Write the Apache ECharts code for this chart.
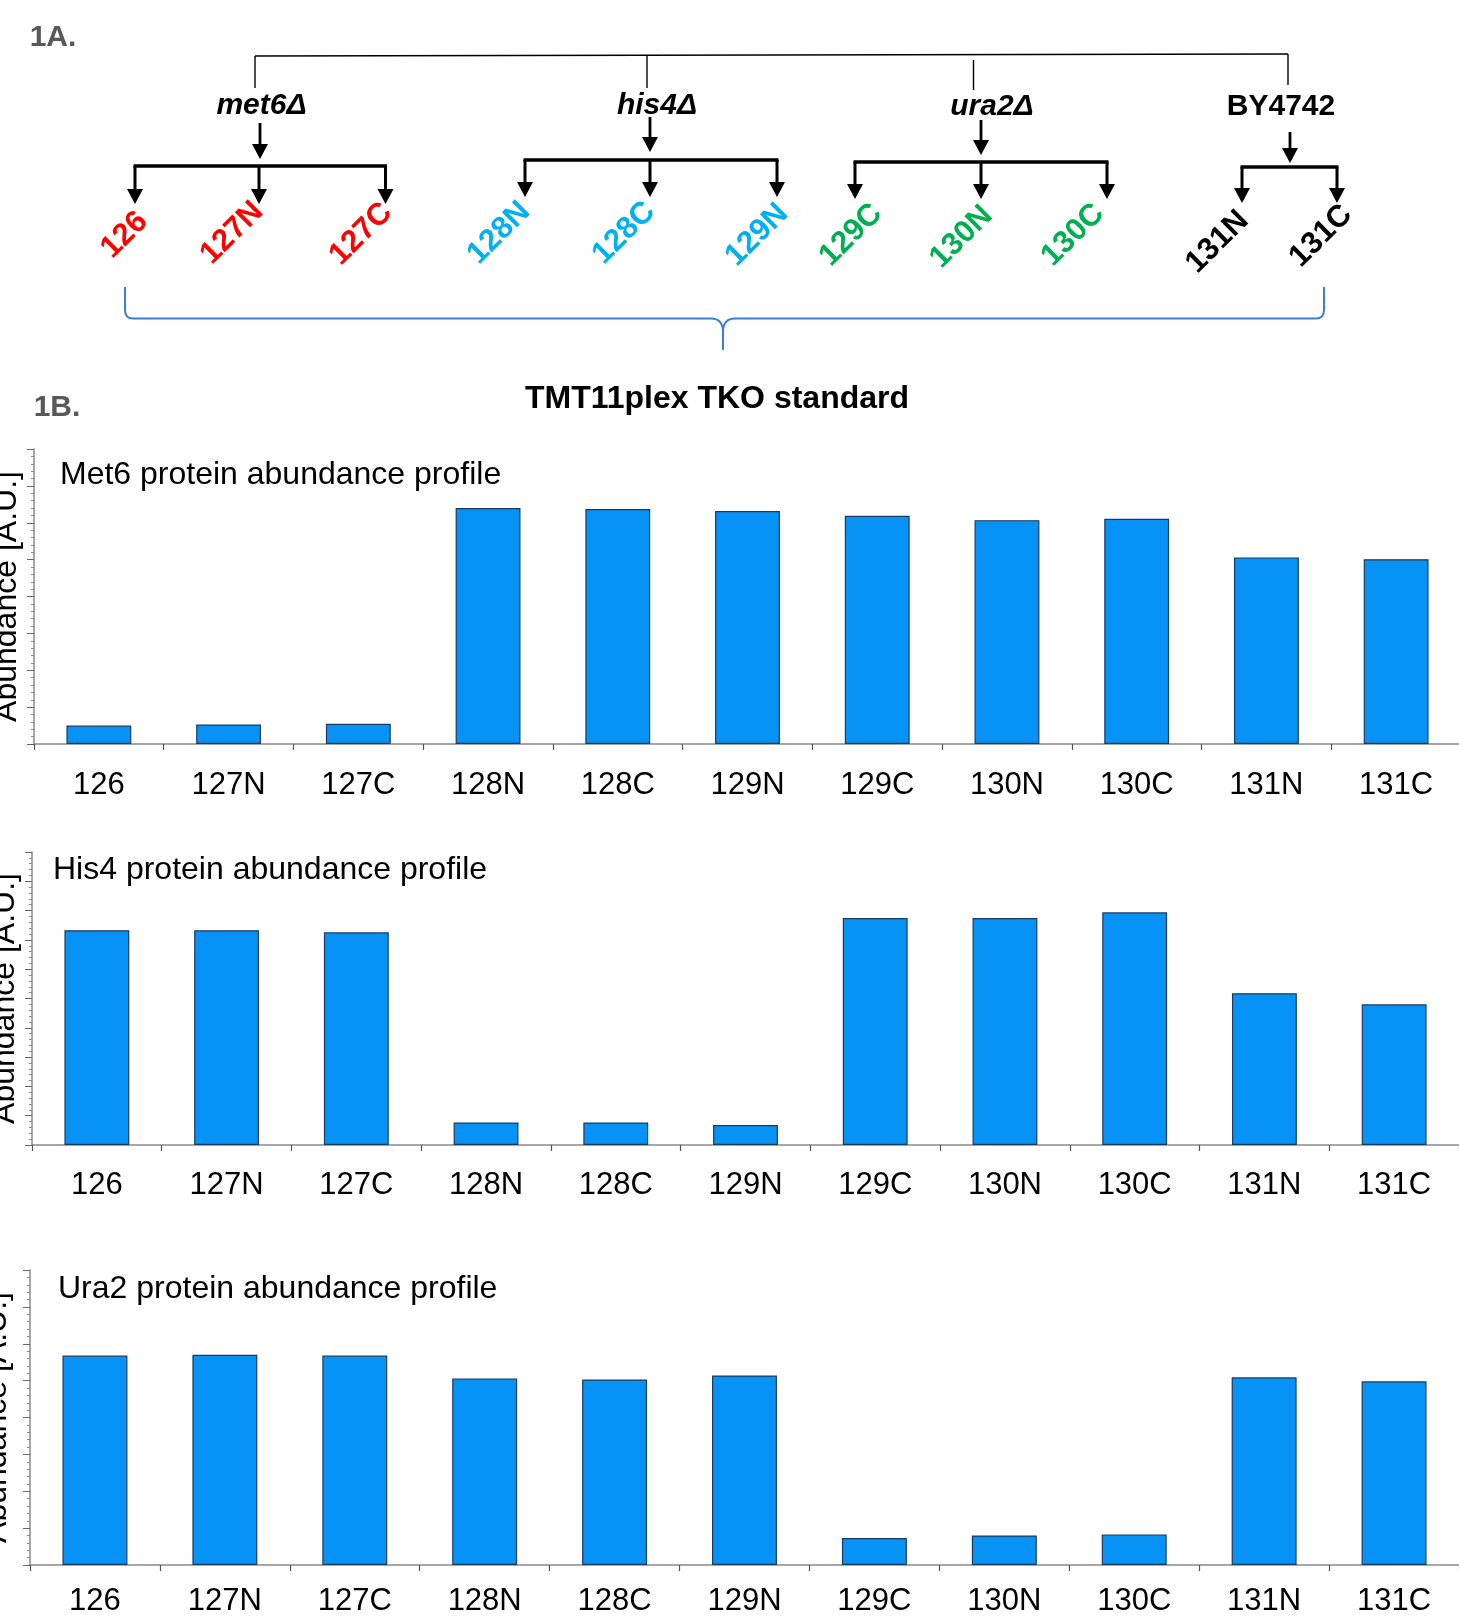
<!DOCTYPE html>
<html>
<head>
<meta charset="utf-8">
<script src="https://cdn.jsdelivr.net/npm/echarts@6/dist/echarts.min.js"></script>
<style>
html,body{margin:0;padding:0;background:#fff;}
#chart{width:1459px;height:1618px;}
</style>
</head>
<body>
<div id="chart"></div>
<script>
// ---------- DATA ----------
const categories = ['126','127N','127C','128N','128C','129N','129C','130N','130C','131N','131C'];
const met6Values = [0.50, 0.53, 0.55, 6.40, 6.37, 6.32, 6.19, 6.07, 6.11, 5.06, 5.01];
const his4Values = [7.33, 7.33, 7.26, 0.77, 0.77, 0.68, 7.75, 7.75, 7.94, 5.18, 4.80];
const ura2Values = [5.68, 5.70, 5.68, 5.06, 5.03, 5.14, 0.73, 0.80, 0.83, 5.09, 4.98];
const yAxisMax = [8, 10, 8];
const panelTitles = ['Met6 protein abundance profile', 'His4 protein abundance profile', 'Ura2 protein abundance profile'];
const yAxisName = 'Abundance [A.U.]';
const strainNames = ['met6Δ', 'his4Δ', 'ura2Δ', 'BY4742'];
const strainItalic = [true, true, true, false];
const strainChannels = [['126','127N','127C'], ['128N','128C','129N'], ['129C','130N','130C'], ['131N','131C']];
const strainColors = ['#FF0000', '#00B0F0', '#00B050', '#000000'];
const panelLabels = ['1A.', '1B.'];
const mainTitle = 'TMT11plex TKO standard';

// ---------- LAYOUT / STYLE ----------
const FONT = "'Liberation Sans', Arial, Helvetica, sans-serif";
const BAR_COLOR = '#0792F5';
const BAR_EDGE = '#1C3A5E';
const AXIS_COLOR = '#8A8A8A';
const gridBoxes = [
  {left: 34, top: 449, width: 1427, height: 295},
  {left: 32, top: 852, width: 1427, height: 293},
  {left: 30, top: 1270, width: 1429, height: 295}
];
const titlePos = [[60, 475], [53, 870], [58, 1289]];
const nameGaps = [11, 11, 17];
const labelMargins = [26, 25, 21];

const strainLayout = [
  {label: [261.5, 106], stem: [255, 56, 88], arrow: [260, 123, 159], barY: 166, xs: [135, 259, 385.5], tipY: 204},
  {label: [657, 106],   stem: [647, 55.5, 88], arrow: [650, 117, 152], barY: 160, xs: [525, 650, 777], tipY: 197},
  {label: [992, 107],   stem: [973.5, 60, 90], arrow: [981, 120, 155], barY: 162, xs: [855, 981, 1107], tipY: 199},
  {label: [1281, 107],  stem: [1288, 54, 85], arrow: [1290, 132, 163], barY: 167, xs: [1242, 1337], tipY: 203}
];
const channelLabelPos = [[124.5,235],[232,233],[361,234],[499,233],[624,233],[757,235],[851,235],[961.5,237],[1073,235],[1217.5,242],[1321,236]];

// ---------- GRAPHIC (schematic panel 1A) ----------
const graphics = [];
function line(x1, y1, x2, y2, w, color) {
  graphics.push({type: 'line', silent: true, shape: {x1, y1, x2, y2}, style: {stroke: color || '#000', lineWidth: w}});
}
function arrow(x, y0, tip, w) {
  line(x, y0, x, tip - 13, w);
  graphics.push({type: 'polygon', silent: true, shape: {points: [[x - 8, tip - 15], [x + 8, tip - 15], [x, tip]]}, style: {fill: '#000'}});
}
function text(t, x, y, font, color, rot) {
  graphics.push({type: 'text', silent: true, x, y, rotation: rot || 0,
    style: {text: t, font, fill: color || '#000', align: 'center', verticalAlign: 'middle'}});
}

text(panelLabels[0], 53, 38, 'bold 30px ' + FONT, '#595959');
text(panelLabels[1], 57, 408, 'bold 30px ' + FONT, '#595959');
text(mainTitle, 717, 399, 'bold 32px ' + FONT, '#000');

// top connector
line(255, 56, 1288, 54, 1.6);
let chIdx = 0;
strainNames.forEach((name, i) => {
  const L = strainLayout[i];
  line(L.stem[0], L.stem[1], L.stem[0], L.stem[2], 1.4);
  text(name, L.label[0], L.label[1], (strainItalic[i] ? 'italic ' : '') + 'bold 30px ' + FONT, '#000');
  arrow(L.arrow[0], L.arrow[1], L.arrow[2], 2.8);
  line(L.xs[0] - 1.5, L.barY, L.xs[L.xs.length - 1] + 1.5, L.barY, 3.5);
  strainChannels[i].forEach((ch, j) => {
    arrow(L.xs[j], L.barY, L.tipY, 3);
    const p = channelLabelPos[chIdx++];
    text(ch, p[0], p[1], 'bold 31px ' + FONT, strainColors[i], Math.PI / 4);
  });
});

// blue brace
const BR = '#3A80D0';
graphics.push({type: 'line', silent: true, shape: {x1: 125, y1: 287, x2: 125, y2: 310}, style: {stroke: BR, lineWidth: 2}});
graphics.push({type: 'bezierCurve', silent: true, shape: {x1: 125, y1: 310, cpx1: 125, cpy1: 318.5, x2: 133, y2: 318.5}, style: {stroke: BR, lineWidth: 2, fill: null}});
graphics.push({type: 'line', silent: true, shape: {x1: 133, y1: 318.5, x2: 711, y2: 318.5}, style: {stroke: BR, lineWidth: 2}});
graphics.push({type: 'bezierCurve', silent: true, shape: {x1: 711, y1: 318.5, cpx1: 723, cpy1: 318.5, x2: 723, y2: 332}, style: {stroke: BR, lineWidth: 2, fill: null}});
graphics.push({type: 'line', silent: true, shape: {x1: 723, y1: 332, x2: 723, y2: 350}, style: {stroke: BR, lineWidth: 2}});
graphics.push({type: 'bezierCurve', silent: true, shape: {x1: 735, y1: 318.5, cpx1: 723, cpy1: 318.5, x2: 723, y2: 332}, style: {stroke: BR, lineWidth: 2, fill: null}});
graphics.push({type: 'line', silent: true, shape: {x1: 735, y1: 318.5, x2: 1316, y2: 318.5}, style: {stroke: BR, lineWidth: 2}});
graphics.push({type: 'bezierCurve', silent: true, shape: {x1: 1316, y1: 318.5, cpx1: 1324, cpy1: 318.5, x2: 1324, y2: 310}, style: {stroke: BR, lineWidth: 2, fill: null}});
graphics.push({type: 'line', silent: true, shape: {x1: 1324, y1: 310, x2: 1324, y2: 287}, style: {stroke: BR, lineWidth: 2}});

// panel titles inside charts
panelTitles.forEach((t, i) => {
  graphics.push({type: 'text', silent: true, x: titlePos[i][0], y: titlePos[i][1],
    style: {text: t, font: '32px ' + FONT, fill: '#000', align: 'left', verticalAlign: 'middle'}});
});

// ---------- CHARTS ----------
const seriesValues = [met6Values, his4Values, ura2Values];
const option = {
  animation: false,
  backgroundColor: '#fff',
  grid: gridBoxes.map(b => Object.assign({containLabel: false, outerBoundsMode: 'none'}, b)),
  xAxis: gridBoxes.map((b, i) => ({
    type: 'category', gridIndex: i, data: categories,
    axisLine: {show: true, lineStyle: {color: AXIS_COLOR, width: 1.5}},
    axisTick: {show: true, length: 6, lineStyle: {color: '#555', width: 1.2}},
    axisLabel: {show: true, interval: 0, fontSize: 31, fontFamily: FONT, color: '#000', margin: labelMargins[i]},
    splitLine: {show: false}
  })),
  yAxis: gridBoxes.map((b, i) => ({
    type: 'value', gridIndex: i, min: 0, max: yAxisMax[i], interval: 1,
    name: yAxisName, nameLocation: 'middle', nameGap: nameGaps[i],
    nameTextStyle: {fontSize: 32, fontFamily: FONT, color: '#000'},
    axisLine: {show: true, lineStyle: {color: AXIS_COLOR, width: 1.5}},
    axisTick: {show: true, length: 7, lineStyle: {color: '#666', width: 1}},
    minorTick: {show: true, splitNumber: 5, length: 3, lineStyle: {color: '#888', width: 1}},
    axisLabel: {show: false},
    splitLine: {show: false}
  })),
  series: seriesValues.map((vals, i) => ({
    type: 'bar', xAxisIndex: i, yAxisIndex: i, data: vals, barWidth: '50%',
    itemStyle: {color: BAR_COLOR, borderColor: BAR_EDGE, borderWidth: 1.2}
  })),
  graphic: graphics
};

const chart = echarts.init(document.getElementById('chart'), null, {renderer: 'canvas'});
chart.setOption(option);
</script>
</body>
</html>
